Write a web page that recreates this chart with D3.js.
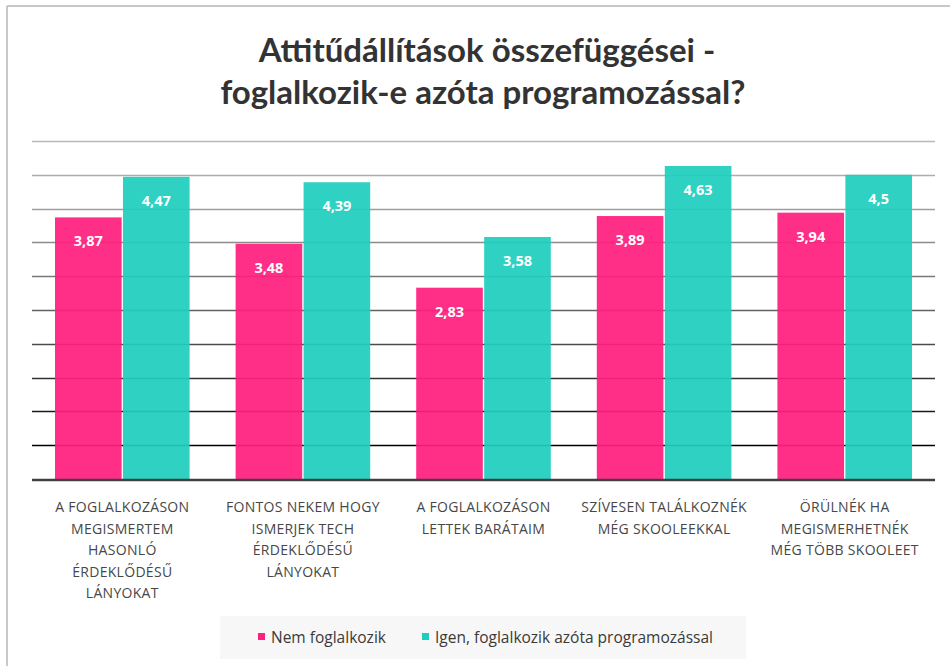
<!DOCTYPE html>
<html>
<head>
<meta charset="utf-8">
<script src="https://cdn.jsdelivr.net/npm/d3@7"></script>
<style>
  body { margin: 0; background: #fff; }
  svg { display: block; }
</style>
</head>
<body>
<div id="chart"></div>
<script>
// Data
var categories = [
  ["A FOGLALKOZÁSON", "MEGISMERTEM", "HASONLÓ", "ÉRDEKLŐDÉSŰ", "LÁNYOKAT"],
  ["FONTOS NEKEM HOGY", "ISMERJEK TECH", "ÉRDEKLŐDÉSŰ", "LÁNYOKAT"],
  ["A FOGLALKOZÁSON", "LETTEK BARÁTAIM"],
  ["SZÍVESEN TALÁLKOZNÉK", "MÉG SKOOLEEKKAL"],
  ["ÖRÜLNÉK HA", "MEGISMERHETNÉK", "MÉG TÖBB SKOOLEET"]
];
var nemValues = [3.87, 3.48, 2.83, 3.89, 3.94];
var igenValues = [4.47, 4.39, 3.58, 4.63, 4.5];
var seriesNames = ["Nem foglalkozik", "Igen, foglalkozik azóta programozással"];
var gridTicks = [0.5, 1, 1.5, 2, 2.5, 3, 3.5, 4, 4.5, 5];

var colors = ["#ff1f7f", "#1fcdbd"];

var svgWidth = 950;
var svgHeight = 666;

var svg = d3.select("#chart")
  .append("svg")
  .attr("width", svgWidth)
  .attr("height", svgHeight);

// outer frame (only top and left visible in the crop)
svg.append("line")
  .attr("x1", 7).attr("x2", svgWidth).attr("y1", 6).attr("y2", 6)
  .attr("stroke", "#c8c8c8").attr("stroke-width", 2);
svg.append("line")
  .attr("x1", 7).attr("x2", 7).attr("y1", 6).attr("y2", svgHeight)
  .attr("stroke", "#c8c8c8").attr("stroke-width", 2);

// Title
var title = svg.append("text")
  .attr("text-anchor", "middle")
  .attr("font-family", "Lato, 'Open Sans', sans-serif")
  .attr("font-weight", "700")
  .attr("font-size", "33px")
  .attr("fill", "#333");
title.append("tspan").attr("x", 487).attr("y", 62).text("Attitűdállítások összefüggései -");
title.append("tspan").attr("x", 483).attr("y", 104).text("foglalkozik-e azóta programozással?");

// Scales
var plotLeft = 32, plotRight = 935;
var x0 = d3.scaleBand()
  .domain(d3.range(categories.length))
  .range([plotLeft, plotRight])
  .paddingInner(0)
  .paddingOuter(0);

var x1 = d3.scaleBand()
  .domain([0, 1])
  .range([23, x0.bandwidth() - 23])
  .paddingInner(0.02);

var y = d3.scaleLinear()
  .domain([0, 5])
  .range([479, 141]);

// Gridlines, light on top, getting darker toward the bottom
var shade = d3.interpolateRgb("#b8b8b8", "#000000");
svg.append("g").selectAll("line")
  .data(gridTicks)
  .enter()
  .append("line")
  .attr("x1", plotLeft)
  .attr("x2", plotRight)
  .attr("y1", d => Math.round(y(d)) + 0.5)
  .attr("y2", d => Math.round(y(d)) + 0.5)
  .attr("stroke", d => shade(Math.pow((5 - d) / 4.5, 1.3)))
  .attr("stroke-width", 1.5);

// Bars
var rows = categories.map(function (c, i) {
  return [nemValues[i], igenValues[i]];
});

var groups = svg.append("g").selectAll("g")
  .data(rows)
  .enter()
  .append("g")
  .attr("transform", (d, i) => `translate(${x0(i)},0)`);

groups.selectAll("rect")
  .data(d => d)
  .enter()
  .append("rect")
  .attr("x", (d, j) => x1(j))
  .attr("width", x1.bandwidth())
  .attr("y", d => y(d))
  .attr("height", d => y(0) - y(d))
  .attr("fill", (d, j) => colors[j])
  .attr("opacity", 0.93);

groups.selectAll("text")
  .data(d => d)
  .enter()
  .append("text")
  .attr("x", (d, j) => x1(j) + x1.bandwidth() / 2)
  .attr("y", d => y(d) + 29)
  .attr("text-anchor", "middle")
  .attr("font-family", "'Open Sans', sans-serif")
  .attr("font-weight", "700")
  .attr("font-size", "14.5px")
  .attr("fill", "#fff")
  .text(d => String(d).replace(".", ","));

// Baseline
svg.append("line")
  .attr("x1", plotLeft).attr("x2", plotRight)
  .attr("y1", y(0) + 1).attr("y2", y(0) + 1)
  .attr("stroke", "#404040").attr("stroke-width", 2.5);

// Category labels
var labels = svg.append("g").selectAll("text")
  .data(categories)
  .enter()
  .append("text")
  .attr("text-anchor", "middle")
  .attr("font-family", "'Open Sans', sans-serif")
  .attr("font-size", "14px")
  .attr("letter-spacing", "0.3px")
  .attr("fill", "#474747");

labels.selectAll("tspan")
  .data((d, i) => d.map(t => ({ t: t, i: i })))
  .enter()
  .append("tspan")
  .attr("x", d => x0(d.i) + x0.bandwidth() / 2)
  .attr("y", (d, k) => 512 + k * 21.5)
  .text(d => d.t);

// Legend
var legend = svg.append("g");
legend.append("rect")
  .attr("x", 220).attr("y", 616)
  .attr("width", 526).attr("height", 43)
  .attr("fill", "#f7f7f7");

var legendX = [258, 422];
var items = legend.selectAll("g")
  .data(seriesNames)
  .enter()
  .append("g")
  .attr("transform", (d, i) => `translate(${legendX[i]},0)`);

items.append("rect")
  .attr("x", 0).attr("y", 633)
  .attr("width", 7).attr("height", 7)
  .attr("fill", (d, i) => colors[i]);

items.append("text")
  .attr("x", 13).attr("y", 643)
  .attr("font-family", "'Open Sans', sans-serif")
  .attr("font-size", "15.5px")
  .attr("fill", "#3a3a3a")
  .text(d => d);
</script>
</body>
</html>
